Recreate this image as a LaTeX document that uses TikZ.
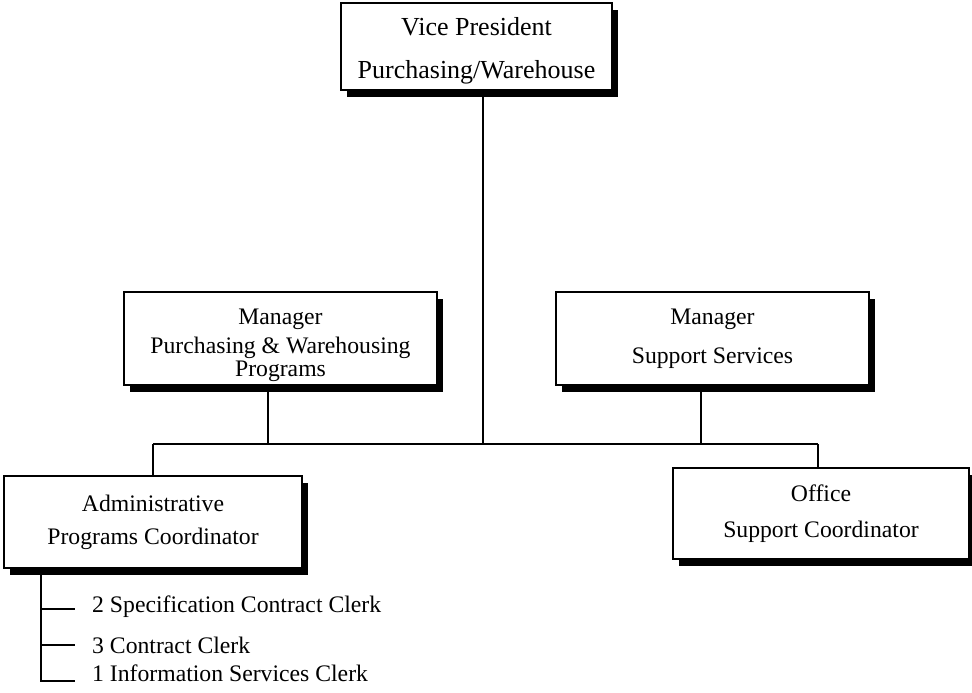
\documentclass[tikz,border=0pt]{standalone}
\usepackage{fontspec}
\setmainfont{Liberation Serif}
\usetikzlibrary{positioning,shadows}

\tikzset{
  unitbox/.style={rectangle,draw,line width=1.3pt,fill=white,align=center,inner sep=0pt,
    drop shadow={shadow xshift=6pt,shadow yshift=-7pt,fill=black,opacity=1}},
  link/.style={line width=1.3pt},
  clerk/.style={inner sep=0pt,anchor=base west,font=\fontsize{23.7}{28}\selectfont},
}

\begin{document}
\begin{tikzpicture}[x=1pt,y=-1pt]
\useasboundingbox (0,0) rectangle (972,693);
% top of the chart
\node[unitbox,minimum width=271pt,minimum height=87pt,font=\fontsize{26}{43}\selectfont] (vp) at (476.5,46.5) {\rule{0pt}{27pt}Vice President\\Purchasing/Warehouse};
% managers
\node[unitbox,minimum width=313pt,minimum height=93pt,font=\fontsize{23.7}{23}\selectfont] (mgrp) at (280.5,338.5) {\rule{0pt}{30pt}Manager\\[6pt]Purchasing \& Warehousing\\Programs};
\node[unitbox,minimum width=313pt,minimum height=93pt,font=\fontsize{23.7}{39}\selectfont] (mgrs) at (712.5,338.5) {Manager\\Support Services};
% coordinators
\node[unitbox,minimum width=298pt,minimum height=92pt,font=\fontsize{23.7}{33}\selectfont] (admin) at (153,522) {Administrative\\Programs Coordinator};
\node[unitbox,minimum width=296pt,minimum height=91pt,font=\fontsize{23.7}{36}\selectfont] (office) at (821,513.5) {Office\\Support Coordinator};
% bus line
\coordinate (hub) at (483,444);
\coordinate (busl) at (153,444);
\coordinate (busr) at (818,444);
\coordinate (pjoin) at (268,444);
\coordinate (sjoin) at (701,444);
\draw[line width=2pt] (vp.south -| hub) -- (hub);
\draw[link] (busl) -- (busr);
\draw[link] (mgrp.south -| pjoin) -- (pjoin);
\draw[link] (mgrs.south -| sjoin) -- (sjoin);
\draw[link] (busl) -- (admin.north -| busl);
\draw[link] (busr) -- (office.north -| busr);
% clerks under the coordinator
\coordinate (stem) at (41,575);
\foreach \n/\ty/\by/\t in {1/609/612/2 Specification Contract Clerk,2/645/653/3 Contract Clerk,3/681/681/1 Information Services Clerk}{
  \coordinate (tip\n) at (75,\ty);
  \node[clerk] (clerk\n) at (92,\by) {\t};
}
\draw[link] (stem) |- (tip3);
\draw[link] (stem |- tip1) -- (tip1);
\draw[link] (stem |- tip2) -- (tip2);
\end{tikzpicture}
\end{document}
